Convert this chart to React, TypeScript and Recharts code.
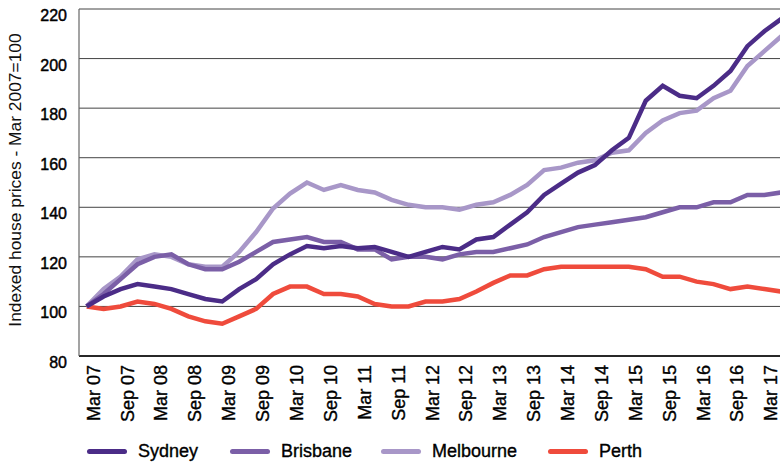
import React from 'react';
import { LineChart, Line, XAxis, YAxis, CartesianGrid, Legend, Label } from 'recharts';

const quarters = [
  'Mar 07', 'Jun 07', 'Sep 07', 'Dec 07',
  'Mar 08', 'Jun 08', 'Sep 08', 'Dec 08',
  'Mar 09', 'Jun 09', 'Sep 09', 'Dec 09',
  'Mar 10', 'Jun 10', 'Sep 10', 'Dec 10',
  'Mar 11', 'Jun 11', 'Sep 11', 'Dec 11',
  'Mar 12', 'Jun 12', 'Sep 12', 'Dec 12',
  'Mar 13', 'Jun 13', 'Sep 13', 'Dec 13',
  'Mar 14', 'Jun 14', 'Sep 14', 'Dec 14',
  'Mar 15', 'Jun 15', 'Sep 15', 'Dec 15',
  'Mar 16', 'Jun 16', 'Sep 16', 'Dec 16',
  'Mar 17', 'Jun 17',
];

const xTickLabels = [
  'Mar 07', 'Sep 07', 'Mar 08', 'Sep 08', 'Mar 09', 'Sep 09', 'Mar 10', 'Sep 10',
  'Mar 11', 'Sep 11', 'Mar 12', 'Sep 12', 'Mar 13', 'Sep 13', 'Mar 14', 'Sep 14',
  'Mar 15', 'Sep 15', 'Mar 16', 'Sep 16', 'Mar 17',
];

const yTicks = [80, 100, 120, 140, 160, 180, 200, 220];

const sydney = [
  100, 104, 107, 109, 108, 107, 105, 103, 102, 107, 111, 117, 121, 124.4, 123.5, 124.4,
  123.5, 124, 122, 120, 122, 124, 123, 127, 128, 133, 138, 145, 149.5, 154, 157, 163,
  168, 183, 189, 185, 184, 189, 195, 205, 211, 216,
];

const brisbane = [
  100, 105, 111, 117, 120, 121, 117, 115, 115, 118, 122, 126, 127, 128, 126, 126,
  123, 123, 119, 120, 120, 119, 121, 122, 122, 123.5, 125, 128, 130, 132, 133, 134,
  135, 136, 138, 140, 140, 142, 142, 145, 145, 146,
];

const melbourne = [
  100, 107, 112, 119, 121, 120, 117, 116, 116, 122, 130, 139.5, 145.5, 150, 147, 149,
  147, 146, 143, 141, 140, 140, 139, 141, 142, 145, 149, 155, 156, 158, 159, 162,
  163, 170, 175, 178, 179, 184, 187, 197, 203, 209,
];

const perth = [
  100, 99, 100, 102, 101, 99, 96, 94, 93, 96, 99, 105, 108, 108, 105, 105,
  104, 101, 100, 100, 102, 102, 103, 106, 109.5, 112.5, 112.5, 115, 116, 116, 116, 116,
  116, 115, 112, 112, 110, 109, 107, 108, 107, 106,
];

const seriesNames = ['Sydney', 'Brisbane', 'Melbourne', 'Perth'];
const seriesColors = ['#4b2c87', '#7b5fa7', '#a897c8', '#ef4b3c'];

const data = quarters.map((q, i) => ({
  q,
  Sydney: sydney[i],
  Brisbane: brisbane[i],
  Melbourne: melbourne[i],
  Perth: perth[i],
}));

const FONT = '"Liberation Sans", Arial, Helvetica, sans-serif';

const XTick = (props: any) => {
  const { x, y, payload } = props;
  return (
    <text
      transform={`translate(${x + 13},${y}) rotate(-90)`}
      textAnchor="end"
      fontSize={18}
      fontFamily={FONT}
      fill="#000"
      stroke="#000"
      strokeWidth={0.35}
    >
      {payload.value}
    </text>
  );
};

const YTick = (props: any) => {
  const { x, y, payload } = props;
  return (
    <text
      x={x}
      y={y + 12}
      textAnchor="end"
      fontSize={16}
      fontFamily={FONT}
      fill="#000"
      stroke="#000"
      strokeWidth={0.45}
    >
      {payload.value}
    </text>
  );
};

const legendLefts = [87, 230, 381, 548];

const renderLegend = () => (
  <div style={{ position: 'relative', width: 780, height: 30, fontFamily: FONT }}>
    {seriesNames.map((name, i) => (
      <div
        key={name}
        style={{
          position: 'absolute',
          left: legendLefts[i],
          top: 8,
          height: 22,
          display: 'flex',
          alignItems: 'center',
        }}
      >
        <div style={{ width: 40, height: 5, borderRadius: 3, background: seriesColors[i] }} />
        <span
          style={{
            marginLeft: 11,
            fontSize: 18,
            lineHeight: '22px',
            color: '#000',
            WebkitTextStroke: '0.35px #000',
          }}
        >
          {name}
        </span>
      </div>
    ))}
  </div>
);

const drawOrder = [3, 2, 1, 0];

export default function App() {
  return (
    <div
      style={{
        position: 'absolute',
        left: 0,
        top: 0,
        width: 780,
        height: 462,
        overflow: 'hidden',
        background: '#fff',
      }}
    >
      <LineChart width={790} height={462} data={data} margin={{ top: 9, right: 1, bottom: 0, left: 0 }}>
        <CartesianGrid vertical={false} stroke="#444" strokeWidth={1} />
        <XAxis
          dataKey="q"
          ticks={xTickLabels}
          interval={0}
          tick={<XTick />}
          tickLine={false}
          tickSize={0}
          tickMargin={9}
          axisLine={{ stroke: '#000', strokeWidth: 1.5 }}
          height={76}
          padding={{ left: 7.7, right: 7.7 }}
        />
        <YAxis
          width={79}
          domain={[80, 220]}
          ticks={yTicks}
          interval={0}
          tick={<YTick />}
          tickLine={false}
          tickSize={0}
          tickMargin={12}
          axisLine={{ stroke: '#666', strokeWidth: 1.2 }}
        >
          <Label
            content={() => (
              <text
                transform="translate(21,180) rotate(-90)"
                textAnchor="middle"
                fontSize={17.4}
                fontFamily={FONT}
                fill="#111"
              >
                Indexed house prices - Mar 2007=100
              </text>
            )}
          />
        </YAxis>
        <Legend verticalAlign="bottom" align="left" height={30} content={renderLegend} wrapperStyle={{ left: 0, height: 30 }} />
        {drawOrder.map((i) => (
          <Line
            key={seriesNames[i]}
            type="linear"
            dataKey={seriesNames[i]}
            stroke={seriesColors[i]}
            strokeWidth={4.5}
            dot={false}
            activeDot={false}
            isAnimationActive={false}
          />
        ))}
      </LineChart>
    </div>
  );
}
